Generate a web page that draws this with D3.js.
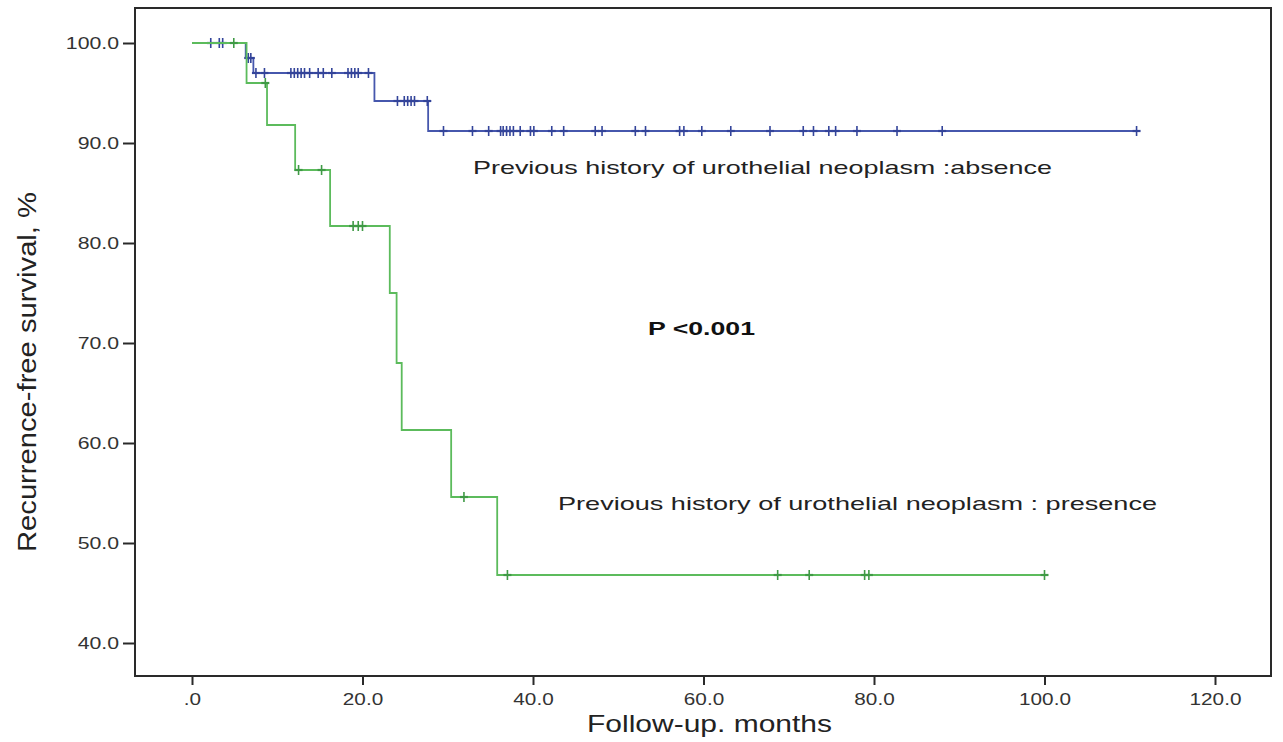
<!DOCTYPE html>
<html>
<head>
<meta charset="utf-8">
<script src="https://cdn.jsdelivr.net/npm/d3@7"></script>
<style>
  body { margin: 0; background: #fff; }
  svg text { font-family: "Liberation Sans", Arial, sans-serif; }
</style>
</head>
<body>
<div id="chart"></div>
<script>
const width = 1283;
const height = 742;

// Kaplan-Meier steps: time (months) and survival (%) after each step
const absenceTimes = [0, 6.3, 7.2, 21.4, 27.7, 110.8];
const absenceSurv = [100, 98.5, 97.0, 94.2, 91.2, 91.2];
const absenceCensored = [2.2, 3.2, 3.6, 6.6, 6.9, 7.5, 8.5, 11.6, 12.0, 12.4, 12.8, 13.2, 13.8,
  14.8, 15.4, 16.4, 18.3, 18.7, 19.1, 19.5, 20.7, 24.1, 24.9, 25.3, 25.7, 26.1, 27.6,
  29.5, 32.9, 34.8, 36.2, 36.5, 36.9, 37.3, 37.7, 38.5, 39.7, 40.1, 42.2, 43.6, 47.3,
  48.1, 52.0, 53.2, 57.2, 57.7, 59.8, 63.2, 67.8, 71.7, 72.9, 74.7, 75.5, 78.0, 82.7,
  88.0, 110.8];

const presenceTimes = [0, 6.4, 8.8, 12.1, 16.2, 23.2, 24.0, 24.6, 30.4, 35.8, 100.0];
const presenceSurv = [100, 96.0, 91.8, 87.3, 81.7, 75.0, 68.0, 61.3, 54.6, 46.8, 46.8];
const presenceCensored = [4.9, 8.6, 12.5, 15.2, 18.9, 19.5, 20.0, 31.9, 37.0, 68.7, 72.4,
  78.9, 79.4, 100.0];

const xTicks = [0, 20, 40, 60, 80, 100, 120];
const xTickLabels = [".0", "20.0", "40.0", "60.0", "80.0", "100.0", "120.0"];
const yTicks = [40, 50, 60, 70, 80, 90, 100];

const svg = d3.select("#chart").append("svg")
  .attr("width", width)
  .attr("height", height);

const x = d3.scaleLinear().domain([0, 120]).range([192, 1215]);
const y = d3.scaleLinear().domain([40, 100]).range([643, 43]);

// stretch text horizontally like the source picture
function stretch(sel, k) {
  sel.each(function () {
    const w = this.getComputedTextLength();
    d3.select(this).attr("textLength", w * k).attr("lengthAdjust", "spacingAndGlyphs");
  });
}

// frame
svg.append("rect")
  .attr("x", 135).attr("y", 8)
  .attr("width", 1271 - 135).attr("height", 676 - 8)
  .attr("fill", "none")
  .attr("stroke", "#2a2a2a")
  .attr("stroke-width", 2);

// axes
const yAxis = svg.append("g")
  .attr("transform", "translate(135,0)")
  .call(d3.axisLeft(y).tickValues(yTicks).tickFormat(d3.format(".1f")).tickSize(12).tickPadding(4));

const xAxis = svg.append("g")
  .attr("transform", "translate(0,676)")
  .call(d3.axisBottom(x).tickValues(xTicks)
    .tickFormat((d, i) => xTickLabels[i]).tickSize(9).tickPadding(8));

[yAxis, xAxis].forEach(function (ax) {
  ax.select(".domain").remove();
  ax.selectAll("line").attr("stroke", "#2a2a2a").attr("stroke-width", 2);
  ax.selectAll("text")
    .style("font-size", "17px")
    .attr("fill", "#333");
});
stretch(yAxis.selectAll("text"), 1.25);
stretch(xAxis.selectAll("text"), 1.22);

// step lines
const line = d3.line()
  .x(d => x(d[0]))
  .y(d => y(d[1]))
  .curve(d3.curveStepAfter);

function survAt(times, surv, t) {
  let v = surv[0];
  times.forEach((tt, i) => { if (tt <= t) v = surv[i]; });
  return v;
}

const groups = [
  { times: absenceTimes, surv: absenceSurv, cens: absenceCensored, color: "#4657ad", mark: "#33449a" },
  { times: presenceTimes, surv: presenceSurv, cens: presenceCensored, color: "#5cbb5c", mark: "#3f9a45" }
];

groups.forEach(function (g) {
  svg.append("path")
    .datum(g.times.map((t, i) => [t, g.surv[i]]))
    .attr("d", line)
    .attr("fill", "none")
    .attr("stroke", g.color)
    .attr("stroke-width", 1.8);

  // censor marks drawn as small "+"
  const marks = svg.append("g")
    .selectAll("g")
    .data(g.cens)
    .enter()
    .append("g")
    .attr("transform", d => "translate(" + x(d) + "," + y(survAt(g.times, g.surv, d)) + ")");

  marks.append("line")
    .attr("x1", 0).attr("x2", 0)
    .attr("y1", -5).attr("y2", 5)
    .attr("stroke", g.mark)
    .attr("stroke-width", 1.6);

  marks.append("line")
    .attr("x1", -4).attr("x2", 4)
    .attr("y1", 0).attr("y2", 0)
    .attr("stroke", g.mark)
    .attr("stroke-width", 2.2);
});

// annotations
svg.append("text")
  .attr("x", 473).attr("y", 174)
  .attr("textLength", 579).attr("lengthAdjust", "spacingAndGlyphs")
  .style("font-size", "19px")
  .attr("fill", "#222")
  .text("Previous history of urothelial neoplasm :absence");

svg.append("text")
  .attr("x", 558).attr("y", 510)
  .attr("textLength", 599).attr("lengthAdjust", "spacingAndGlyphs")
  .style("font-size", "19px")
  .attr("fill", "#222")
  .text("Previous history of urothelial neoplasm : presence");

svg.append("text")
  .attr("x", 648).attr("y", 335)
  .attr("textLength", 107).attr("lengthAdjust", "spacingAndGlyphs")
  .style("font-size", "19px")
  .style("font-weight", "bold")
  .attr("fill", "#111")
  .text("P <0.001");

// axis titles
svg.append("text")
  .attr("x", 587).attr("y", 732)
  .attr("textLength", 245).attr("lengthAdjust", "spacingAndGlyphs")
  .style("font-size", "24px")
  .attr("fill", "#222")
  .text("Follow-up. months");

svg.append("text")
  .attr("transform", "translate(36," + 372 + ") rotate(-90)")
  .attr("text-anchor", "middle")
  .attr("textLength", 360).attr("lengthAdjust", "spacingAndGlyphs")
  .style("font-size", "25px")
  .attr("fill", "#222")
  .text("Recurrence-free survival, %");
</script>
</body>
</html>
